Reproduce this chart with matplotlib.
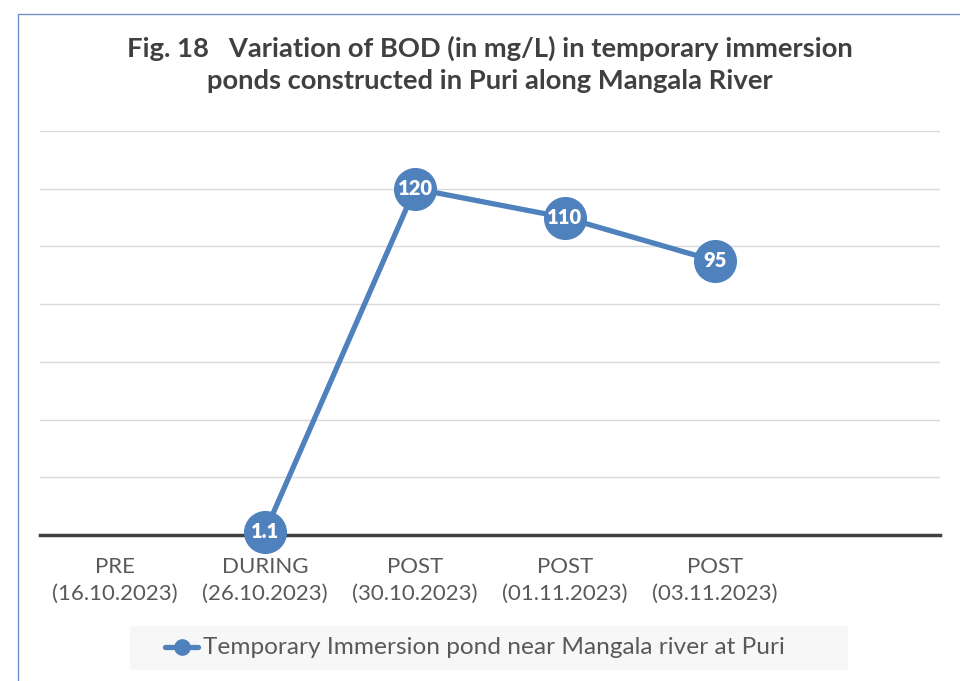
import matplotlib
matplotlib.use("Agg")
import matplotlib.pyplot as plt
from matplotlib.patches import Rectangle
import numpy as np

categories = ["PRE\n(16.10.2023)", "DURING\n(26.10.2023)", "POST\n(30.10.2023)",
              "POST\n(01.11.2023)", "POST\n(03.11.2023)", ""]
values = [np.nan, 1.1, 120, 110, 95, np.nan]
value_labels = ["", "1.1", "120", "110", "95", ""]
series_name = "Temporary Immersion pond near Mangala river at Puri"
title = "Fig. 18   Variation of BOD (in mg/L) in temporary immersion\nponds constructed in Puri along Mangala River"

W, H = 960, 681
fig = plt.figure(figsize=(W/100, H/100), dpi=100)
fig.patch.set_facecolor("white")

# outer border (chart area, cropped at right/bottom)
fig.patches.append(Rectangle((18/W, -0.05), 1.1, (H-14)/H + 0.05, transform=fig.transFigure,
                             fill=False, edgecolor="#6f93c8", linewidth=1.0))

ax = fig.add_axes([40/W, (H-535)/H, 900/W, (535-131)/H])
x = np.arange(len(categories))
color = "#4f81bd"
ax.plot(x, values, color=color, lw=3.8, marker="o", ms=30, mfc=color, mec=color, zorder=3,
        solid_capstyle="round")
for xi, v, lab in zip(x, values, value_labels):
    if lab:
        ax.text(xi, v, lab, ha="center", va="center", color="white", fontsize=14.5,
                fontweight="heavy", family="Lato", zorder=4)

ax.set_xlim(-0.5, len(categories) - 0.5)
ax.set_ylim(0, 140)
ax.set_yticks(np.arange(0, 141, 20))
ax.yaxis.grid(True, color="#d9d9d9", lw=1.0)
ax.set_axisbelow(True)
ax.tick_params(axis="y", left=False, labelleft=False)
ax.set_xticks(x)
ax.set_xticklabels(categories, fontsize=16, color="#595959", family="Lato", linespacing=1.4)
ax.tick_params(axis="x", length=0, pad=16)
for s in ["top", "right", "left"]:
    ax.spines[s].set_visible(False)
ax.spines["bottom"].set_color("#404040")
ax.spines["bottom"].set_linewidth(2.5)
ax.spines["bottom"].set_zorder(2.5)
for l in ax.lines:
    l.set_clip_on(False)

fig.text(490/W, 1 - 64/H, title, ha="center", va="center", fontsize=19.7, fontweight="bold",
         family="Lato", color="#404040", linespacing=1.4)

# legend box
fig.patches.append(Rectangle((130/W, (H-670)/H), (848-130)/W, 44/H, transform=fig.transFigure,
                             facecolor="#f7f7f7", edgecolor="none"))
ly = (H-647)/H
fig.lines.append(plt.Line2D([165/W, 198/W], [ly, ly], transform=fig.transFigure, color=color,
                            lw=3.8, solid_capstyle="round"))
fig.lines.append(plt.Line2D([182/W], [ly], transform=fig.transFigure, color=color, marker="o", ms=11))
fig.text(203/W, ly, series_name, ha="left", va="center", fontsize=17.6, color="#595959",
         family="Lato")

fig.savefig("out.png", dpi=100)
